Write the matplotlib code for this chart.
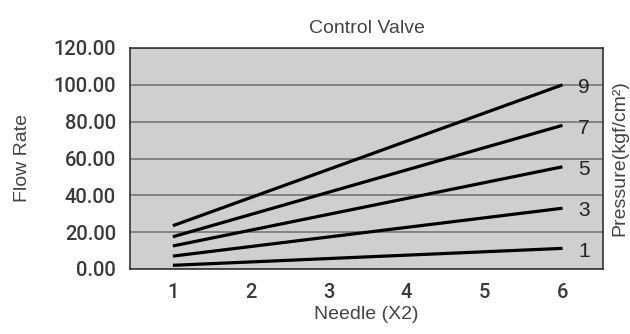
import matplotlib
matplotlib.use("Agg")
from matplotlib import pyplot as plt

# needle position (X2)
needle = [1, 6]
# pressure curves (kgf/cm2) and flow rate at each end
pressures = ["9", "7", "5", "3", "1"]
flow_start = [23.5, 17.5, 12.5, 7.0, 2.0]
flow_end = [100.0, 78.0, 55.5, 33.0, 11.2]

y_ticks = [0, 20, 40, 60, 80, 100, 120]
x_ticks = [1, 2, 3, 4, 5, 6]

fig = plt.figure(figsize=(6.30, 3.34), dpi=100)
ax = fig.add_axes([130 / 630, 1 - 269 / 334, 473 / 630, 221 / 334])
ax.set_facecolor("#cfcfcf")

for i in range(len(pressures)):
    ax.plot(needle, [flow_start[i], flow_end[i]], color="black", lw=2.3,
            solid_capstyle="butt", zorder=3)
    ax.text(6.2, flow_end[i] - 1.5, pressures[i], fontsize=15, color="#222222",
            family="Liberation Sans", va="center", ha="left")

ax.set_xlim(0.45, 6.52)
ax.set_ylim(0, 120)
ax.set_yticks(y_ticks)
ax.set_yticklabels(["%.2f" % v for v in y_ticks])
ax.set_xticks(x_ticks)
ax.grid(axis="y", color="#6e6e6e", lw=1.1, zorder=1)
ax.tick_params(length=0, pad=10, labelsize=14.5, labelcolor="#3a3a3a")
for lbl in ax.get_xticklabels() + ax.get_yticklabels():
    lbl.set_family("Roboto")
    lbl.set_fontweight("medium")
for side in ["top", "right", "bottom", "left"]:
    ax.spines[side].set_color("#333333")
    ax.spines[side].set_linewidth(1.2)

ax.set_title("Control Valve", fontsize=14, color="#444444",
             family="Liberation Sans", pad=11)
ax.set_xlabel("Needle (X2)", fontsize=14, color="#444444",
              family="Liberation Sans", labelpad=3)
ax.set_ylabel("Flow Rate", fontsize=14, color="#444444",
              family="Liberation Sans", labelpad=16)
fig.text(620 / 630, 1 - 158 / 334, "Pressure(kgf/cm²)", rotation=90,
         fontsize=14, color="#444444", family="Liberation Sans",
         ha="center", va="center")

plt.savefig("out.png", dpi=100)
plt.close()
